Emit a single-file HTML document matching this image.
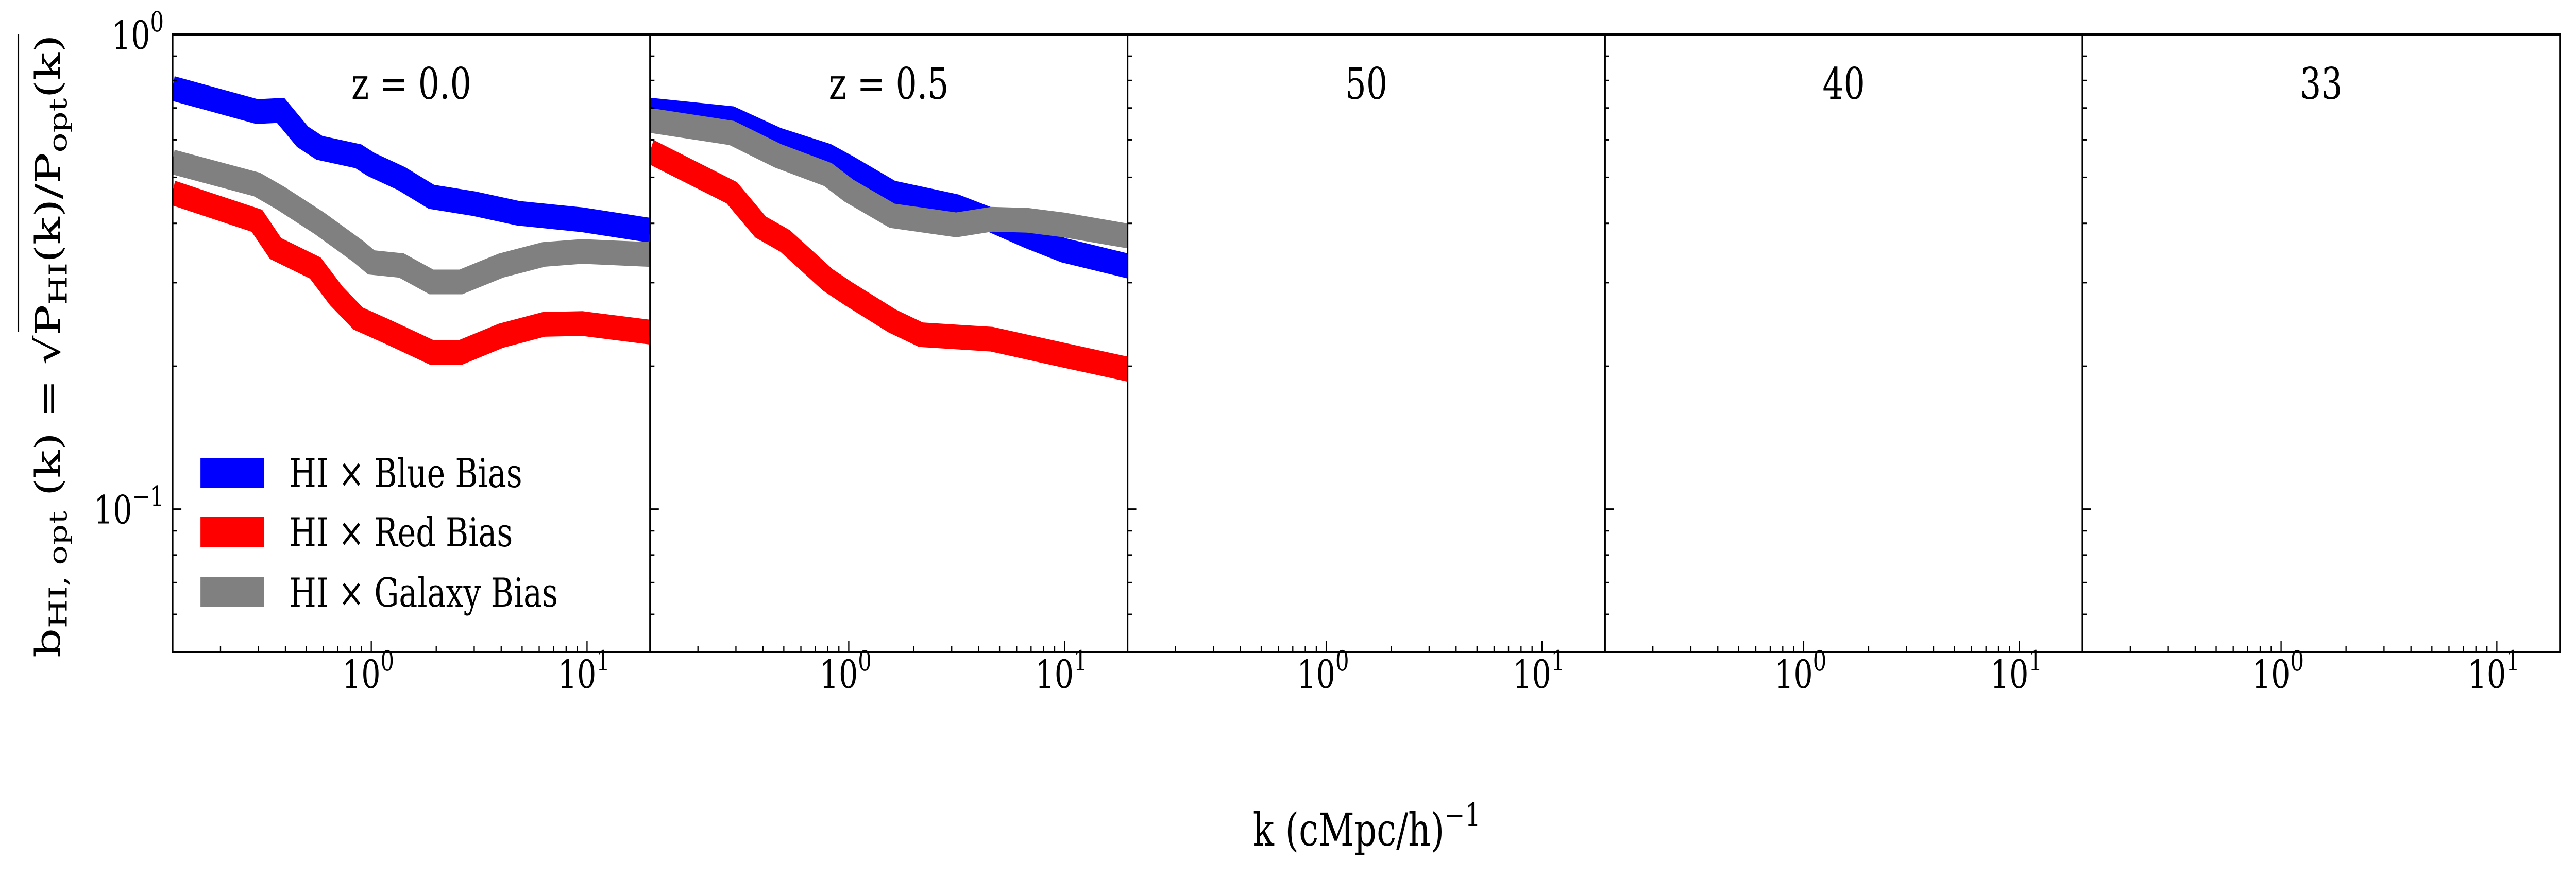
<!DOCTYPE html>
<html><head><meta charset="utf-8"><style>
html,body{margin:0;padding:0;background:#fff;overflow:hidden;width:100%;height:100%;}
svg{display:block;width:100vw;height:100vh;font-family:"DejaVu Serif","Liberation Serif",serif;}
</style></head><body>
<svg id="fig" viewBox="0 0 6476 1705" preserveAspectRatio="none" xmlns="http://www.w3.org/2000/svg">
<rect x="0" y="0" width="6476" height="1705" fill="#fff"/>
<g id="plots"></g>
<g>
<text transform="translate(150,672) rotate(-90)" font-size="86" text-anchor="middle" textLength="1210" lengthAdjust="spacingAndGlyphs" fill="#000">b<tspan font-size="62" dy="18">HI, opt</tspan><tspan dy="-18"> (k) = √</tspan>P<tspan font-size="62" dy="18">HI</tspan><tspan dy="-18">(k)/P</tspan><tspan font-size="62" dy="18">opt</tspan><tspan dy="-18">(k)</tspan></text>
<line x1="46" y1="66" x2="46" y2="645" stroke="#000" stroke-width="4"/>
</g>
<text x="3436" y="1642" font-size="88" text-anchor="middle">k (cMpc/h)<tspan font-size="62" dy="-38">−1</tspan></text>
<g>
<g><rect x="504" y="889" width="160" height="58" fill="#0000ff"/><text x="727" y="946" font-size="78">HI × Blue Bias</text></g>
<g><rect x="504" y="1004" width="160" height="58" fill="#ff0000"/><text x="727" y="1061" font-size="78">HI × Red Bias</text></g>
<g><rect x="504" y="1121" width="160" height="58" fill="#808080"/><text x="727" y="1178" font-size="78">HI × Galaxy Bias</text></g>
</g>
</svg>
<script>
const panelTitles = ["z = 0.0", "z = 0.5", "50", "40", "33"];
const xMin = 0.12, xMax = 19.6, yMin = 0.05, yMax = 1.0;
// panel 1 (z = 0.0)
const p1BlueK = [0.12,0.295,0.38,0.48,0.575,0.87,1.0,1.38,1.9,3.0,4.8,9.5,19.5];
const p1BlueV = [0.77,0.688,0.692,0.609,0.577,0.554,0.532,0.497,0.455,0.44,0.42,0.407,0.387];
const p1GrayK = [0.12,0.295,0.38,0.575,0.87,1.0,1.38,1.9,2.6,4.0,6.3,9.5,19.5];
const p1GrayV = [0.539,0.483,0.452,0.4,0.349,0.331,0.326,0.301,0.301,0.326,0.344,0.349,0.344];
const p1RedK = [0.12,0.295,0.36,0.55,0.69,0.87,1.2,1.9,2.6,4.0,6.3,9.5,19.5];
const p1RedV = [0.464,0.405,0.354,0.322,0.281,0.252,0.236,0.214,0.214,0.232,0.245,0.246,0.236];
// panel 2 (z = 0.5)
const p2BlueK = [0.12,0.287,0.47,0.8,1.0,1.59,3.15,4.6,6.75,9.9,19.8];
const p2BlueV = [0.693,0.665,0.6,0.555,0.525,0.464,0.434,0.406,0.376,0.351,0.325];
const p2GrayK = [0.12,0.287,0.47,0.8,1.0,1.59,3.15,4.6,6.75,9.9,19.8];
const p2GrayV = [0.659,0.62,0.555,0.507,0.469,0.415,0.397,0.408,0.406,0.397,0.376];
const p2RedK = [0.12,0.287,0.39,0.508,0.8,1.0,1.59,2.16,4.6,9.9,19.8];
const p2RedV = [0.567,0.464,0.393,0.367,0.304,0.284,0.249,0.233,0.228,0.211,0.197];

const NS = "http://www.w3.org/2000/svg";
const root = document.getElementById("plots");
const L0 = 434, PW = 1200.3, T = 67, B = 1266;
function xs(i, k){ return L0 + i*PW + (Math.log10(k)-Math.log10(xMin))/(Math.log10(xMax)-Math.log10(xMin))*PW; }
function ys(v){ return T + (Math.log10(yMax)-Math.log10(v))/(Math.log10(yMax)-Math.log10(yMin))*(B-T); }
function mk(tag, attrs, parent){ const e=document.createElementNS(NS,tag); for(const a in attrs) e.setAttribute(a,attrs[a]); parent.appendChild(e); return e; }

const defs = mk("defs", {}, root);
const series = [
  [[p1BlueK,p1BlueV,"#0000ff","blue"],[p1RedK,p1RedV,"#ff0000","red"],[p1GrayK,p1GrayV,"#808080","galaxy"]],
  [[p2BlueK,p2BlueV,"#0000ff","blue"],[p2RedK,p2RedV,"#ff0000","red"],[p2GrayK,p2GrayV,"#808080","galaxy"]]
];
for(let i=0;i<5;i++){
  const L = L0 + i*PW;
  const g = mk("g", {}, root);
  
  
  const cp = mk("clipPath", {id:"cp"+i}, defs);
  mk("rect", {x:L, y:T, width:PW, height:B-T}, cp);
  if(series[i]){
    for(const s of series[i]){
      const pts = s[0].map((k,j)=>xs(i,k).toFixed(1)+","+ys(s[1][j]).toFixed(1)).join(" ");
      const pl = mk("polyline", {points:pts, fill:"none", stroke:s[2], "stroke-width":48, "clip-path":"url(#cp"+i+")"}, g);
      
      
    }
  }
  for(let d=-2; d<=0; d++){
    for(let m=1; m<10; m++){
      const v = m*Math.pow(10,d);
      if(v<yMin-1e-9 || v>yMax+1e-9) continue;
      const y = ys(v), len = (m===1)?22:11;
      mk("line", {x1:L, y1:y, x2:L+len, y2:y, stroke:"#000", "stroke-width":3}, g);
    }
  }
  for(let d=-1; d<=1; d++){
    for(let m=1; m<10; m++){
      const k = m*Math.pow(10,d);
      if(k<xMin || k>xMax) continue;
      const x = xs(i,k), len = (m===1)?22:11;
      mk("line", {x1:x, y1:B, x2:x, y2:B-len, stroke:"#000", "stroke-width":3}, g);
    }
  }
  const fr = mk("rect", {x:L, y:T, width:PW, height:B-T, fill:"none", stroke:"#000", "stroke-width":4}, g);
  
  
  const t = mk("text", {x:L+PW/2, y:192, "font-size":84, "text-anchor":"middle"}, g);
  t.textContent = panelTitles[i];
  
  
  for(const e of [0,1]){
    const tx = mk("text", {x:xs(i,Math.pow(10,e))-8, y:1336, "font-size":76, "text-anchor":"middle"}, g);
    tx.innerHTML = '10<tspan font-size="54" dy="-34">' + e + '</tspan>';
    
    
  }
}
const ytl = [["0",1.0],["−1",0.1]];
for(const [lab,v] of ytl){
  const t = mk("text", {x:412, y:ys(v)+28, "font-size":76, "text-anchor":"end"}, root);
  t.innerHTML = '10<tspan font-size="54" dy="-34">' + lab + '</tspan>';
  
  
}
</script>
</body></html>
